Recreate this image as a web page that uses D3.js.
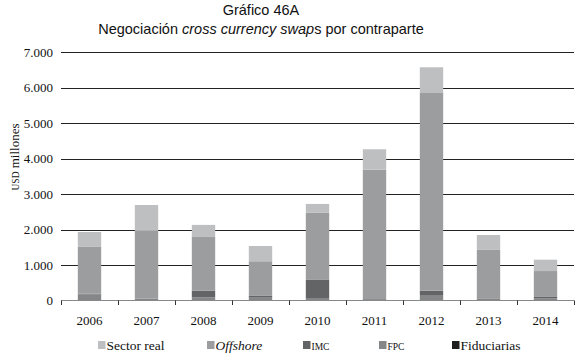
<!DOCTYPE html>
<html><head><meta charset="utf-8">
<script src="https://cdn.jsdelivr.net/npm/d3@7"></script>
<style>body{margin:0;background:#fff}</style>
</head><body><svg id="c" width="576" height="357"></svg>
<script>
const years = ["2006","2007","2008","2009","2010","2011","2012","2013","2014"];
const seriesNames = ["Sector real","Offshore","IMC","FPC","Fiduciarias"];
const sectorReal  = [420, 730, 340, 430, 250, 575, 725, 420, 320];
const offshore    = [1320,1910,1510,975,1890,3645,5570,1380,730];
const imc         = [20,  0,  190, 50, 530, 0,  120, 0,  40];
const fpc         = [170, 50, 90,  80, 50,  40, 155, 45, 60];
const fiduciarias = [0,   0,  0,   0,  0,   0,  0,   0,  0];
const yTicks = [0,1000,2000,3000,4000,5000,6000,7000];

const colors = {"Sector real":"#bebfc1","Offshore":"#9c9d9f","IMC":"#636466","FPC":"#858688","Fiduciarias":"#1e1e1e"};
const valuesBy = {"Sector real":sectorReal,"Offshore":offshore,"IMC":imc,"FPC":fpc,"Fiduciarias":fiduciarias};
const rows = years.map((y,i)=>{const r={year:y}; seriesNames.forEach(s=>r[s]=valuesBy[s][i]); return r;});
const stackOrder = ["Fiduciarias","FPC","IMC","Offshore","Sector real"];
const stacked = d3.stack().keys(stackOrder)(rows);

const svg = d3.select("#c");
const serif = "'Liberation Serif','Times New Roman',serif";
const sans = "'Liberation Sans',Arial,sans-serif";

const x = d3.scaleBand().domain(years).range([61,574]).paddingInner(0.59).paddingOuter(0.295);
const y = d3.scaleLinear().domain([0,7000]).range([300.5,52]);
const fmt = d => d3.format(",")(d).replace(/,/g,".");

// gridlines
svg.append("g").selectAll("line").data(yTicks.filter(d=>d>0)).join("line")
  .attr("x1",61).attr("x2",574).attr("y1",d=>Math.round(y(d))+0.5).attr("y2",d=>Math.round(y(d))+0.5)
  .attr("stroke","#222").attr("stroke-width",1);

// y labels
svg.append("g").selectAll("text").data(yTicks).join("text")
  .attr("x",53).attr("y",d=>y(d)+4.5).attr("text-anchor","end")
  .style("font-family",serif).style("font-size","13px").attr("fill","#111").text(fmt);

// bars
svg.append("g").selectAll("g").data(stacked).join("g").attr("fill",d=>colors[d.key])
  .selectAll("rect").data(d=>d).join("rect")
  .attr("x",d=>x(d.data.year)).attr("width",x.bandwidth())
  .attr("y",d=>y(d[1])).attr("height",d=>Math.max(0,y(d[0])-y(d[1])));

// x axis
const step = x.step();
const xAxis = svg.append("g");
xAxis.append("line").attr("x1",61).attr("x2",574).attr("y1",300.5).attr("y2",300.5).attr("stroke","#888");
xAxis.selectAll("line.t").data(d3.range(years.length+1)).join("line").attr("class","t")
  .attr("x1",i=>Math.round(61+i*step)+0.5).attr("x2",i=>Math.round(61+i*step)+0.5)
  .attr("y1",300.5).attr("y2",305).attr("stroke","#333");
xAxis.selectAll("text").data(years).join("text")
  .attr("x",d=>x(d)+x.bandwidth()/2).attr("y",325).attr("text-anchor","middle")
  .style("font-family",serif).style("font-size","13px").attr("fill","#111").text(d=>d);

// y title
const yt = svg.append("text").attr("transform","translate(19,157) rotate(-90)").attr("text-anchor","middle")
  .style("font-family",serif).style("font-size","13px").attr("fill","#111");
yt.append("tspan").style("font-size","9.5px").text("USD");
yt.append("tspan").text(" millones");

// title
svg.append("text").attr("x",261).attr("y",15).attr("text-anchor","middle")
  .style("font-family",sans).style("font-size","14.5px").attr("fill","#111").text("Gráfico 46A");
const t2 = svg.append("text").attr("x",261).attr("y",33.5).attr("text-anchor","middle")
  .style("font-family",sans).style("font-size","14.5px").attr("fill","#111");
t2.append("tspan").text("Negociación ");
t2.append("tspan").style("font-style","italic").text("cross currency swap");
t2.append("tspan").text("s por contraparte");

// legend
const legX = [98,207,303,379,452];
const leg = svg.append("g").selectAll("g").data(seriesNames).join("g")
  .attr("transform",(d,i)=>`translate(${legX[i]},0)`);
leg.append("rect").attr("x",0).attr("y",341).attr("width",7.5).attr("height",8).attr("fill",d=>colors[d]);
leg.append("text").attr("x",d=>8.5).attr("y",349.5)
  .style("font-family",serif)
  .style("font-size",d=>(d==="IMC"||d==="FPC")?"9.5px":"13.5px")
  .style("font-style",d=>d==="Offshore"?"italic":"normal")
  .attr("fill","#111").text(d=>d);
</script></body></html>
